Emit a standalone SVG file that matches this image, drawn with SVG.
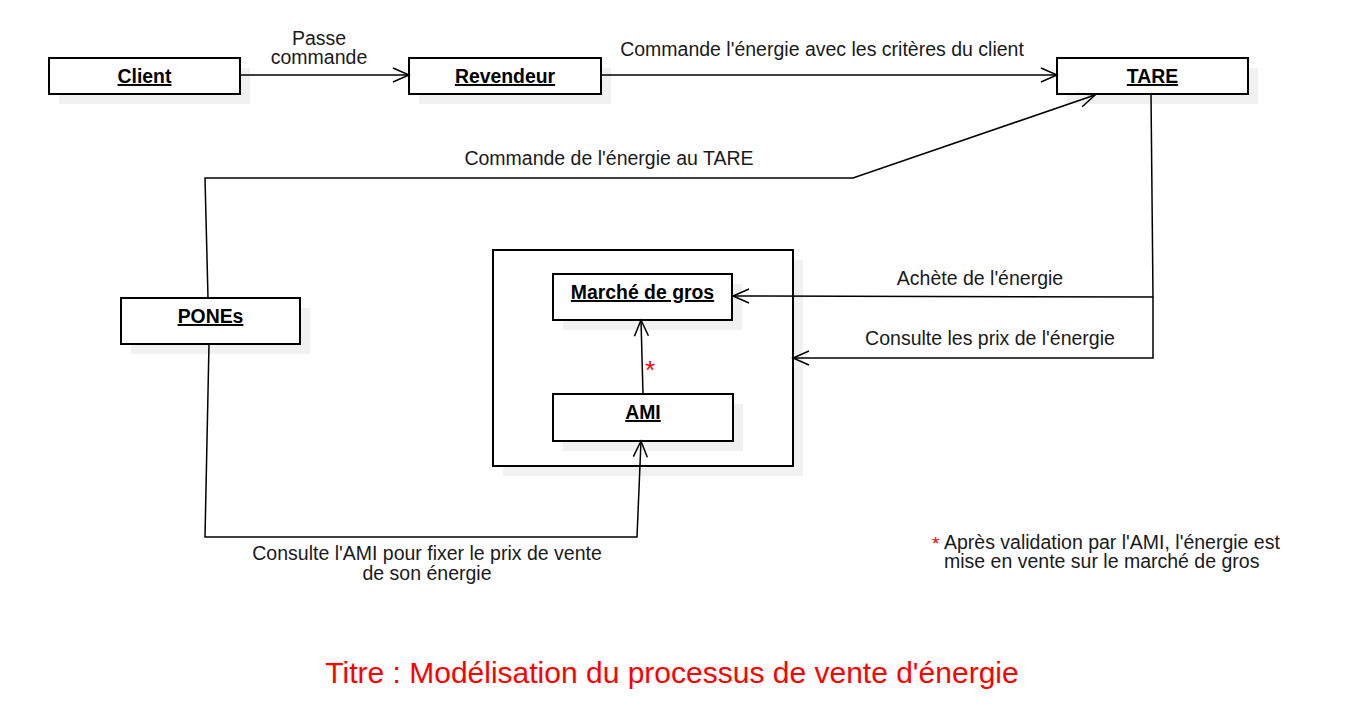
<svg xmlns="http://www.w3.org/2000/svg" width="1370" height="719" viewBox="0 0 1370 719">
<style>
.box{fill:#fff;stroke:#000;stroke-width:2}
.sh{fill:#f1f1f1}
.nl{font-family:"Liberation Sans",Arial,sans-serif;font-size:19.4px;font-weight:bold;text-decoration:underline;fill:#000;text-anchor:middle}
.lb{font-family:"Liberation Sans",Arial,sans-serif;font-size:19.5px;fill:#1a1a1a;text-anchor:middle}
.nt{font-family:"Liberation Sans",Arial,sans-serif;font-size:19.5px;fill:#1a1a1a}
.ln{fill:none;stroke:#000;stroke-width:1.5}
</style>
<defs>
<marker id="arr" viewBox="0 0 20 20" refX="18" refY="10" markerWidth="20" markerHeight="20" markerUnits="userSpaceOnUse" orient="auto">
<path d="M2,3 L18,10 L2,17" fill="none" stroke="#000" stroke-width="1.5"/>
</marker>
</defs>
<rect width="1370" height="719" fill="#fff"/>
<g id="frame">
<rect class="sh" x="503" y="260" width="300" height="216"/>
<rect class="box" x="493" y="250" width="300" height="216"/>
</g>
<g id="client">
<rect class="sh" x="59" y="68" width="191" height="36"/>
<rect class="box" x="49" y="58" width="191" height="36"/>
<text class="nl" x="144.5" y="83">Client</text>
</g>
<g id="revendeur">
<rect class="sh" x="419" y="68" width="192" height="36"/>
<rect class="box" x="409" y="58" width="192" height="36"/>
<text class="nl" x="505" y="83">Revendeur</text>
</g>
<g id="tare">
<rect class="sh" x="1067" y="68" width="191" height="36"/>
<rect class="box" x="1057" y="58" width="191" height="36"/>
<text class="nl" x="1152.5" y="83">TARE</text>
</g>
<g id="pones">
<rect class="sh" x="131" y="308" width="179" height="46"/>
<rect class="box" x="121" y="298" width="179" height="46"/>
<text class="nl" x="210.5" y="323">PONEs</text>
</g>
<g id="marche">
<rect class="sh" x="563" y="284" width="179" height="46"/>
<rect class="box" x="553" y="274" width="179" height="46"/>
<text class="nl" x="642.5" y="299">Marché de gros</text>
</g>
<g id="ami">
<rect class="sh" x="563" y="404" width="180" height="47"/>
<rect class="box" x="553" y="394" width="180" height="47"/>
<text class="nl" x="643" y="419">AMI</text>
</g>
<g id="connectors">
<path class="ln" d="M240,75 L409,75" marker-end="url(#arr)"/>
<text class="lb" x="319" y="45">Passe</text>
<text class="lb" x="319" y="64">commande</text>
<path class="ln" d="M601,75 L1057,75" marker-end="url(#arr)"/>
<text class="lb" x="822" y="56">Commande l'énergie avec les critères du client</text>
<path class="ln" d="M208,298 L205,178 L853,178 L1095,95" marker-end="url(#arr)"/>
<text class="lb" x="609" y="165">Commande de l'énergie au TARE</text>
<path class="ln" d="M1151,94 L1153,297 L733,296" marker-end="url(#arr)"/>
<text class="lb" x="980" y="285">Achète de l'énergie</text>
<path class="ln" d="M1153,297 L1153,358 L793,358" marker-end="url(#arr)"/>
<text class="lb" x="990" y="345">Consulte les prix de l'énergie</text>
<path class="ln" d="M643,394 L641,320" marker-end="url(#arr)"/>
<text x="650" y="379" font-family="Liberation Sans,Arial,sans-serif" font-size="26" fill="#ff0000" text-anchor="middle">*</text>
<path class="ln" d="M209,344 L205,537 L637,537 L641,441" marker-end="url(#arr)"/>
<text class="lb" x="427" y="560">Consulte l'AMI pour fixer le prix de vente</text>
<text class="lb" x="427" y="580">de son énergie</text>
</g>
<g id="note">
<text x="932" y="550" font-family="Liberation Sans,Arial,sans-serif" font-size="19" fill="#ff0000">*</text>
<text class="nt" x="944" y="549">Après validation par l'AMI, l'énergie est</text>
<text class="nt" x="944" y="568">mise en vente sur le marché de gros</text>
</g>
<text x="672" y="683" font-family="Liberation Sans,Arial,sans-serif" font-size="30" fill="#ff0000" text-anchor="middle">Titre : Modélisation du processus de vente d'énergie</text>
</svg>
